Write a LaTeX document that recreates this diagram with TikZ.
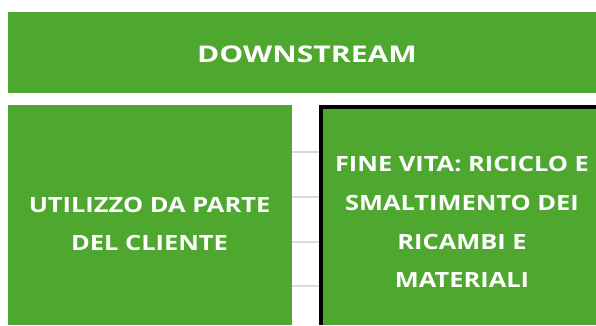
\documentclass[tikz,border=0pt]{standalone}
\usepackage{fontspec}
\newfontfamily\bodyfont[FakeStretch=1.21]{Open Sans}
\newfontfamily\titlefont[FakeStretch=1.31]{Open Sans}
\definecolor{xlgreen}{HTML}{4EA72E}
\definecolor{gridgray}{HTML}{D9D9D9}
\tikzset{
  greenbox/.style={fill=xlgreen, draw=none, inner sep=0pt, anchor=north west, rectangle},
  txt/.style={text=white, inner sep=0pt, anchor=base},
  gridline/.style={draw=gridgray, line width=1.6bp},
  cellborder/.style={fill=black},
}
\begin{document}
\begin{tikzpicture}[x=1bp,y=-1bp]
\useasboundingbox (0,0) rectangle (596,325);
\fill[white] (0,0) rectangle (596,325);
% boxes
\node[greenbox, minimum width=588bp, minimum height=81bp] (top) at (8,12) {};
\node[greenbox, minimum width=284bp, minimum height=220bp] (left) at (8,105) {};
\node[greenbox, minimum width=273bp, minimum height=216bp] (right) at (323,109) {};
% black cell border
\fill[cellborder] (319,105) rectangle (322.7,325);
\fill[cellborder] (319,105) rectangle (596,108.7);
% gridlines
\coordinate (g1a) at (292,151.7); \coordinate (g1b) at (319,151.7);
\coordinate (g2a) at (292,196.7); \coordinate (g2b) at (319,196.7);
\coordinate (g3a) at (292,241.7); \coordinate (g3b) at (319,241.7);
\coordinate (g4a) at (292,285.7); \coordinate (g4b) at (319,285.7);
\draw[gridline] (g1a) -- (g1b);
\draw[gridline] (g2a) -- (g2b);
\draw[gridline] (g3a) -- (g3b);
\draw[gridline] (g4a) -- (g4b);
% texts
\node[txt, font={\titlefont\bfseries\fontsize{23bp}{30bp}\selectfont}] (tdown) at (307,62)
  {DOWNSTREAM};
\node[txt, font={\bodyfont\bfseries\fontsize{21bp}{37.7bp}\selectfont}] (tleft) at (149.5,212.5)
  {\setlength{\tabcolsep}{0pt}\renewcommand{\arraystretch}{1}\begin{tabular}[t]{c}UTILIZZO DA PARTE\\DEL CLIENTE\end{tabular}};
\node[txt, font={\bodyfont\bfseries\fontsize{21bp}{38.7bp}\selectfont}] (tright) at (462,171.8)
  {\setlength{\tabcolsep}{0pt}\renewcommand{\arraystretch}{1}\begin{tabular}[t]{c}FINE VITA: RICICLO E\\SMALTIMENTO DEI\\RICAMBI E\\MATERIALI\end{tabular}};
\end{tikzpicture}
\end{document}
